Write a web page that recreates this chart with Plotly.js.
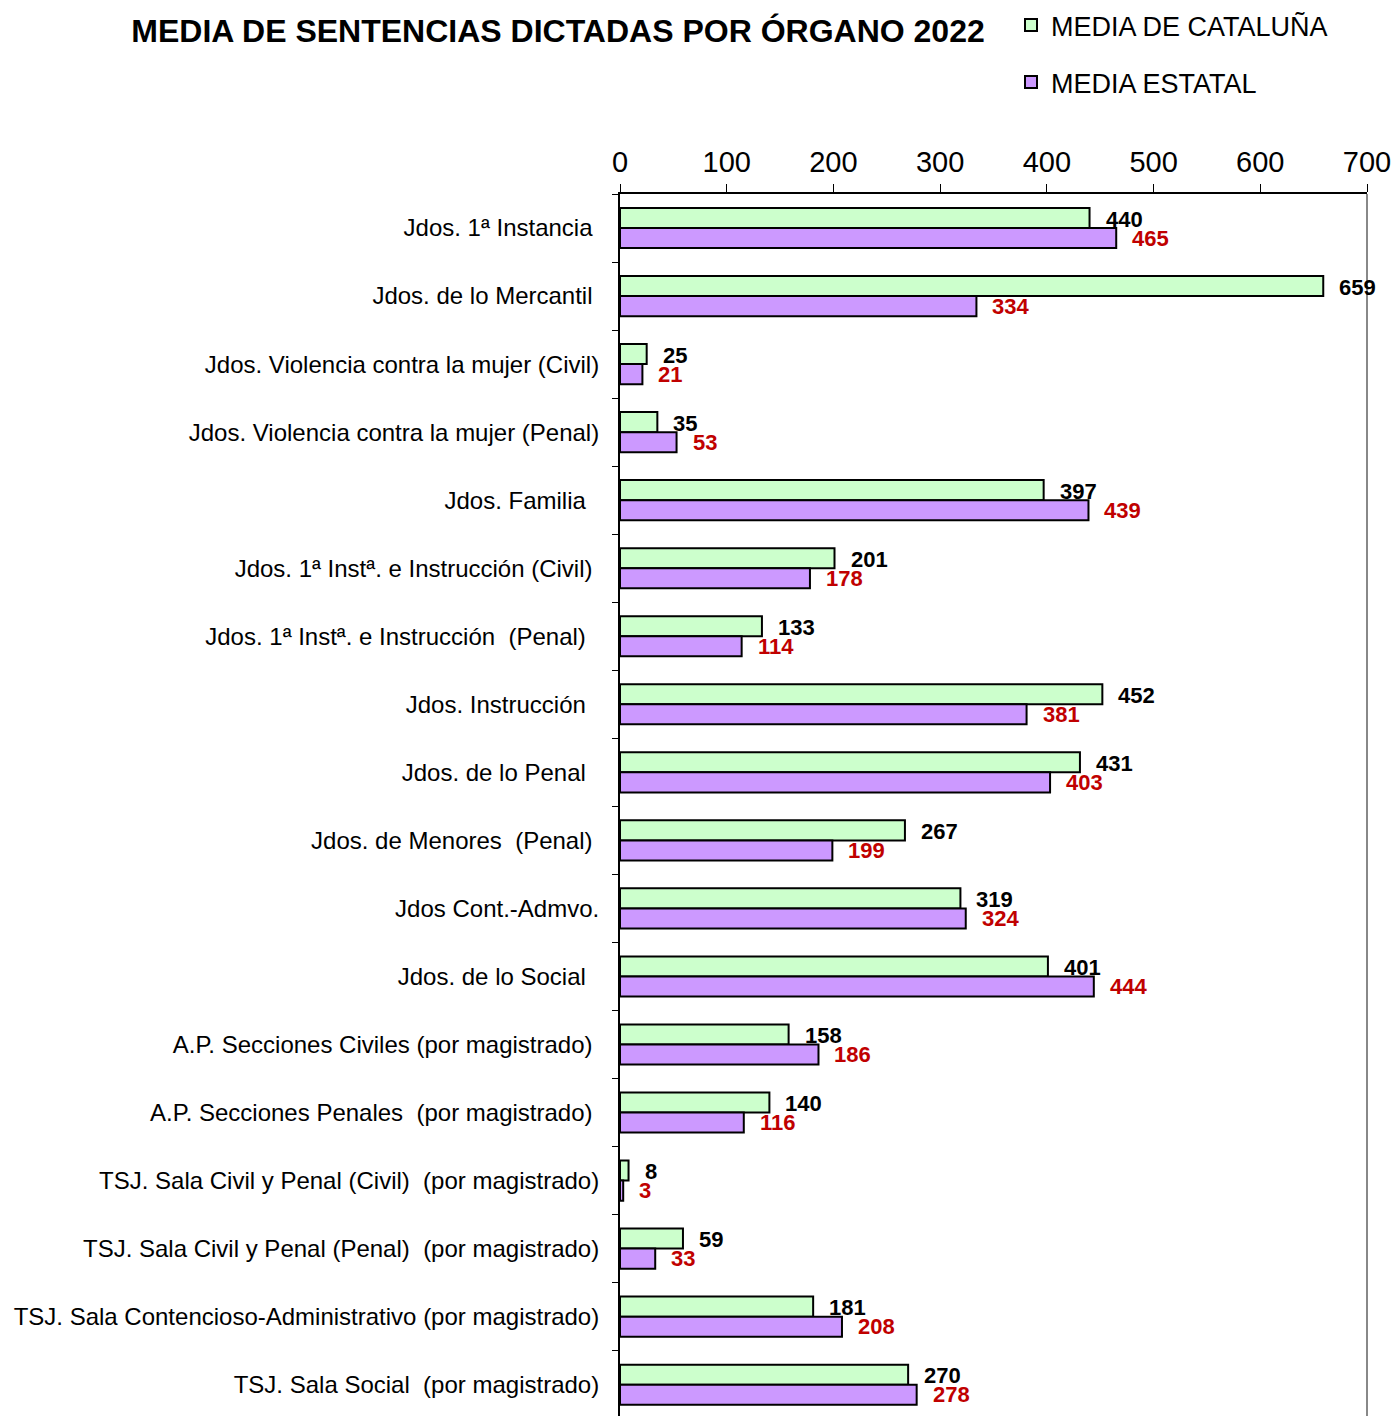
<!DOCTYPE html>
<html>
<head>
<meta charset="utf-8">
<script src="https://cdn.plot.ly/plotly-3.0.1.min.js"></script>
<style>html,body{margin:0;padding:0;background:#fff;}#chart{width:1395px;height:1416px;}</style>
</head>
<body>
<div id="chart"></div>
<script>
const categories = [
  "Jdos. 1ª Instancia ",
  "Jdos. de lo Mercantil ",
  "Jdos. Violencia contra la mujer (Civil)",
  "Jdos. Violencia contra la mujer (Penal)",
  "Jdos. Familia  ",
  "Jdos. 1ª Instª. e Instrucción (Civil) ",
  "Jdos. 1ª Instª. e Instrucción  (Penal)  ",
  "Jdos. Instrucción  ",
  "Jdos. de lo Penal  ",
  "Jdos. de Menores  (Penal) ",
  "Jdos Cont.-Admvo.",
  "Jdos. de lo Social  ",
  "A.P. Secciones Civiles (por magistrado) ",
  "A.P. Secciones Penales  (por magistrado) ",
  "TSJ. Sala Civil y Penal (Civil)  (por magistrado)",
  "TSJ. Sala Civil y Penal (Penal)  (por magistrado)",
  "TSJ. Sala Contencioso-Administrativo (por magistrado)",
  "TSJ. Sala Social  (por magistrado)"
];
const mediaCataluna = [440, 659, 25, 35, 397, 201, 133, 452, 431, 267, 319, 401, 158, 140, 8, 59, 181, 270];
const mediaEstatal  = [465, 334, 21, 53, 439, 178, 114, 381, 403, 199, 324, 444, 186, 116, 3, 33, 208, 278];
const seriesNames = ["MEDIA DE CATALUÑA", "MEDIA ESTATAL"];
const xTicks = [0, 100, 200, 300, 400, 500, 600, 700];

const FONT = "Arial, 'Liberation Sans', sans-serif";

const traces = [
  {
    type: "bar", orientation: "h", name: seriesNames[0],
    y: categories, x: mediaCataluna,
    marker: {color: "#CCFFCC", line: {color: "#000", width: 2}},
    legend: "legend", hoverinfo: "x"
  },
  {
    type: "bar", orientation: "h", name: seriesNames[1],
    y: categories, x: mediaEstatal,
    marker: {color: "#CC99FF", line: {color: "#000", width: 2}},
    legend: "legend2", hoverinfo: "x"
  }
];

const annotations = [];
categories.forEach((c, i) => {
  annotations.push({
    x: mediaCataluna[i], y: c, xref: "x", yref: "y",
    text: String(mediaCataluna[i]), showarrow: false,
    xanchor: "left", yanchor: "middle", xshift: 14, yshift: 9,
    font: {family: FONT, size: 22, color: "#000", weight: "bold"}
  });
  annotations.push({
    x: mediaEstatal[i], y: c, xref: "x", yref: "y",
    text: String(mediaEstatal[i]), showarrow: false,
    xanchor: "left", yanchor: "middle", xshift: 14, yshift: -10,
    font: {family: FONT, size: 22, color: "#C00000", weight: "bold"}
  });
});

const layout = {
  width: 1395, height: 1416,
  paper_bgcolor: "#fff", plot_bgcolor: "#fff",
  margin: {l: 620, r: 28, t: 194, b: 0, pad: 0, autoexpand: false},
  font: {family: FONT, color: "#000"},
  title: {
    text: "<b>MEDIA DE SENTENCIAS DICTADAS POR ÓRGANO 2022</b>",
    font: {family: FONT, size: 32, color: "#000"},
    xref: "container", yref: "container",
    x: 0.4, xanchor: "center", y: 1 - 31/1416, yanchor: "middle"
  },
  barmode: "group", bargap: 0.41, bargroupgap: 0,
  xaxis: {
    side: "top", range: [0, 700], tickvals: xTicks, ticktext: xTicks.map(String),
    showgrid: false, zeroline: false,
    showline: true, linecolor: "#000", linewidth: 2,
    ticks: "outside", ticklen: 8, tickcolor: "#000", tickwidth: 1,
    tickfont: {family: FONT, size: 29, color: "#000"}
  },
  yaxis: {
    type: "category", range: [17.46, -0.5],
    showgrid: false, zeroline: false,
    showline: true, linecolor: "#000", linewidth: 2,
    ticks: "outside", ticklen: 6, tickcolor: "#000", tickwidth: 1,
    tickson: "boundaries", ticklabelstandoff: 14,
    tickfont: {family: FONT, size: 24, color: "#000"}
  },
  showlegend: true,
  legend: {
    xref: "container", yref: "container",
    x: 1011/1395, y: 1 - 1/1416, xanchor: "left", yanchor: "top",
    font: {family: FONT, size: 27, color: "#000"}, bgcolor: "rgba(0,0,0,0)"
  },
  legend2: {
    xref: "container", yref: "container",
    x: 1011/1395, y: 1 - 58/1416, xanchor: "left", yanchor: "top",
    font: {family: FONT, size: 27, color: "#000"}, bgcolor: "rgba(0,0,0,0)"
  },
  shapes: [
    {type: "line", xref: "paper", yref: "paper", x0: 1, x1: 1, y0: 0, y1: 1,
     line: {color: "#888", width: 2}}
  ],
  annotations: annotations
};

Plotly.newPlot("chart", traces, layout, {displayModeBar: false, staticPlot: true});
</script>
</body>
</html>
